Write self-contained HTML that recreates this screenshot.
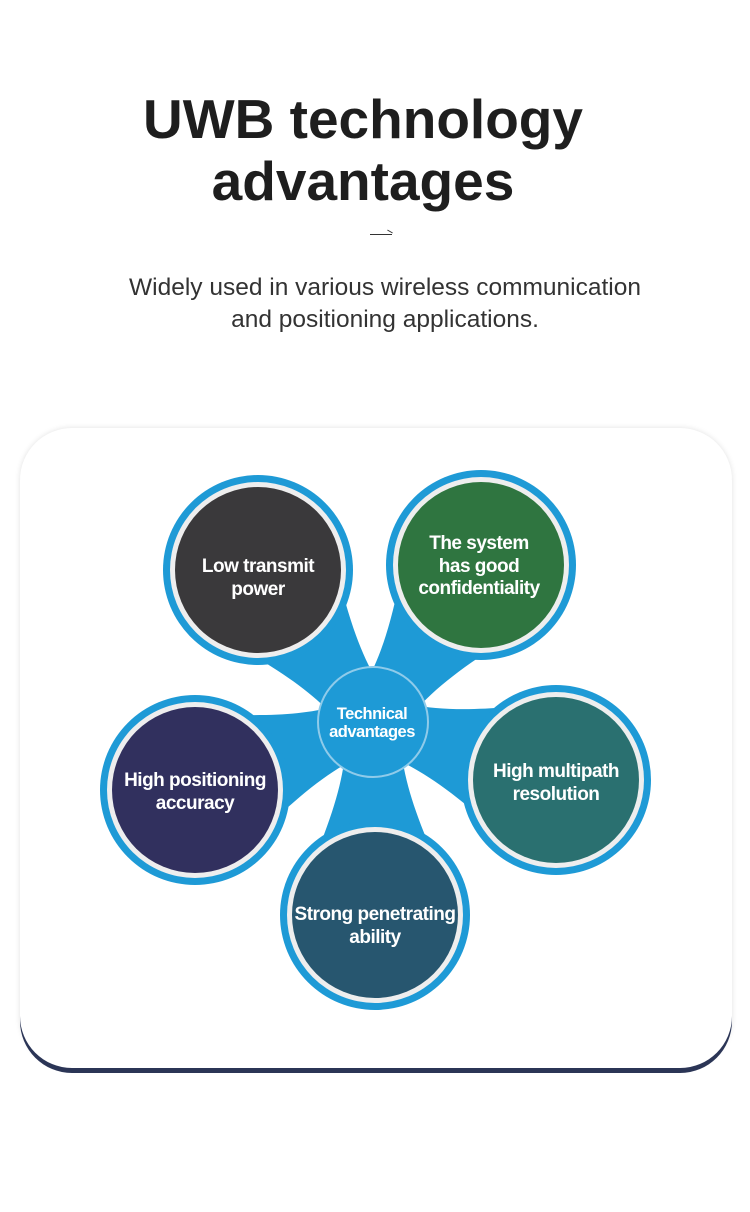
<!DOCTYPE html>
<html><head><meta charset="utf-8"><style>
body{margin:0;width:750px;height:1212px;background:#fff;position:relative;overflow:hidden;font-family:"Liberation Sans",sans-serif}
.t{position:absolute;left:0;width:726px;text-align:center;font-weight:bold;font-size:55px;color:#1e1e1e;line-height:62px;top:88px}
.s{position:absolute;left:0;width:770px;text-align:center;font-size:24.5px;color:#333;line-height:32px;top:272px}
.card{position:absolute;left:20px;top:428px;width:712px;height:640px;border-radius:52px;background:#fff;box-shadow:0 5px 0 #2b3556,0 0 6px rgba(0,0,0,0.12)}
svg{position:absolute;left:0;top:0}
</style></head><body>
<div class="t">UWB technology<br>advantages</div>
<div style="position:absolute;left:370px;top:234px;width:22px;height:1px;background:#333"></div>
<div style="position:absolute;left:387px;top:231px;width:6px;height:1px;background:#333;transform:rotate(30deg)"></div>
<div class="s">Widely used in various wireless communication<br>and positioning applications.</div>
<div class="card"></div>
<svg width="750" height="1212" viewBox="0 0 750 1212">
<defs>
<path id="stem" d="M30,-28 C65,-32 100,-44 150,-66 L150,66 C100,44 65,32 30,28 Z" fill="#1e9ad6"/>
</defs>
<g transform="translate(373,722)">
<use href="#stem" transform="rotate(-127.1)"/>
<use href="#stem" transform="rotate(-55.5)"/>
<use href="#stem" transform="rotate(17.6)"/>
<use href="#stem" transform="rotate(159.1)"/>
<use href="#stem" transform="rotate(89.4)"/>
</g>
<g>
<circle cx="258" cy="570" r="95" fill="#1e9ad6"/><circle cx="258" cy="570" r="88" fill="#eee"/><circle cx="258" cy="570" r="83" fill="#3a393b"/>
<circle cx="481" cy="565" r="95" fill="#1e9ad6"/><circle cx="481" cy="565" r="88" fill="#eee"/><circle cx="481" cy="565" r="83" fill="#2f7540"/>
<circle cx="556" cy="780" r="95" fill="#1e9ad6"/><circle cx="556" cy="780" r="88" fill="#eee"/><circle cx="556" cy="780" r="83" fill="#2a7070"/>
<circle cx="195" cy="790" r="95" fill="#1e9ad6"/><circle cx="195" cy="790" r="88" fill="#eee"/><circle cx="195" cy="790" r="83" fill="#31305e"/>
<circle cx="375" cy="915" r="95" fill="#1e9ad6"/><circle cx="375" cy="915" r="88" fill="#eee"/><circle cx="375" cy="915" r="83" fill="#27566f"/>
<circle cx="373" cy="722" r="55" fill="#1e9ad6" stroke="#8fcbea" stroke-width="2"/>
</g>
<g fill="#fff" font-family="Liberation Sans, sans-serif" font-weight="bold" font-size="19" text-anchor="middle" letter-spacing="-0.5">
<text x="258" y="572">Low transmit</text><text x="258" y="595">power</text>
<text x="479" y="549">The system</text><text x="479" y="572">has good</text><text x="479" y="594">confidentiality</text>
<text x="556" y="777">High multipath</text><text x="556" y="800">resolution</text>
<text x="195" y="786">High positioning</text><text x="195" y="809">accuracy</text>
<text x="375" y="920">Strong penetrating</text><text x="375" y="943">ability</text>
<text x="372" y="719" font-size="16.5">Technical</text><text x="372" y="737" font-size="16.5">advantages</text>
</g>
</svg>
</body></html>
